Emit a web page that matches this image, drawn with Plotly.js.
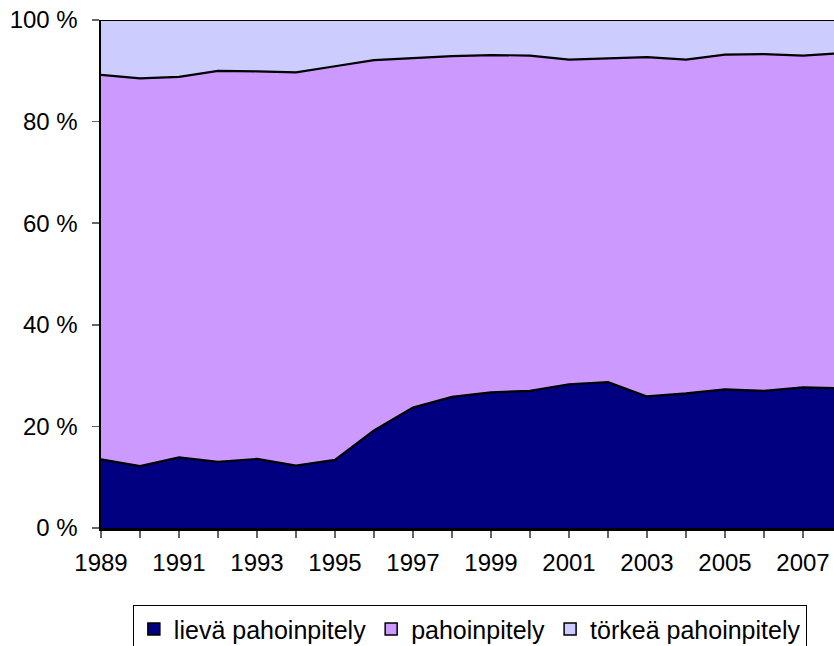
<!DOCTYPE html>
<html>
<head>
<meta charset="utf-8">
<script src="https://cdn.plot.ly/plotly-3.0.1.min.js"></script>
<style>
html, body { margin: 0; padding: 0; overflow: hidden; background: #fff; }
#chart { width: 845px; height: 670px; }
</style>
</head>
<body>
<div id="chart"></div>
<script>
const years = [1989,1990,1991,1992,1993,1994,1995,1996,1997,1998,1999,2000,2001,2002,2003,2004,2005,2006,2007,2008];
const lieva = [13.5,12.2,13.9,13.0,13.6,12.3,13.4,19.2,23.7,25.8,26.7,27.0,28.3,28.7,25.9,26.5,27.3,27.0,27.7,27.5];
const pahoinpitely = [75.7,76.3,74.9,77.0,76.3,77.4,77.5,72.9,68.8,67.1,66.4,66.0,63.9,63.7,66.8,65.7,65.9,66.3,65.3,66.0];
const torkea = [10.8,11.5,11.2,10.0,10.1,10.3,9.1,7.9,7.5,7.1,6.9,7.0,7.8,7.6,7.3,7.8,6.8,6.7,7.0,6.5];
const seriesNames = ['lievä pahoinpitely','pahoinpitely','törkeä pahoinpitely'];
const xTickLabels = ['1989','','1991','','1993','','1995','','1997','','1999','','2001','','2003','','2005','','2007',''];
const yTickVals = [0,20,40,60,80,100];
const yTickLabels = ['0 %','20 %','40 %','60 %','80 %','100 %'];

const colors = ['#000080','#CC99FF','#CCCCFF'];
const vals = [lieva, pahoinpitely, torkea];
const traces = vals.map((v, i) => ({
  type: 'scatter',
  mode: 'lines',
  x: years,
  y: v,
  name: seriesNames[i],
  stackgroup: 'one',
  fillcolor: colors[i],
  line: {color: '#000000', width: 2.2},
  showlegend: false,
  hoverinfo: 'skip'
}));
// legend entries drawn as square swatches
seriesNames.forEach((n, i) => traces.push({
  type: 'bar', x: [null], y: [null], name: n,
  marker: {color: colors[i], line: {color: '#000', width: 1.5}},
  showlegend: true, hoverinfo: 'skip'
}));

const tickFont = {family: 'Liberation Sans, Arial, sans-serif', size: 24, color: '#000'};
const legFont = {family: 'Liberation Sans, Arial, sans-serif', size: 25, color: '#000'};
const layout = {
  width: 845, height: 670,
  margin: {l: 101, r: 3, t: 20, b: 142},
  paper_bgcolor: '#fff', plot_bgcolor: '#fff',
  font: tickFont,
  showlegend: true,
  xaxis: {
    range: [1989, 2008],
    tickvals: years, ticktext: xTickLabels,
    ticks: 'outside', ticklen: 7, tickwidth: 1.5, tickcolor: '#666',
    ticklabelstandoff: 5,
    showline: true, linecolor: '#000', linewidth: 2.5,
    showgrid: false, zeroline: false,
    tickfont: tickFont
  },
  yaxis: {
    range: [0, 100],
    tickvals: yTickVals, ticktext: yTickLabels,
    ticks: 'outside', ticklen: 7, tickwidth: 1.5, tickcolor: '#666',
    ticklabelstandoff: 9,
    showline: true, linecolor: '#000', linewidth: 2.5,
    showgrid: false, zeroline: false,
    tickfont: tickFont
  },
  legend: {
    orientation: 'h',
    x: 0.043, xanchor: 'left',
    y: -0.152, yanchor: 'top',
    bordercolor: '#000', borderwidth: 1,
    bgcolor: '#fff',
    font: legFont,
    itemwidth: 30,
    traceorder: 'normal'
  }
};
Plotly.newPlot('chart', traces, layout, {displayModeBar: false, staticPlot: true});
</script>
</body>
</html>
